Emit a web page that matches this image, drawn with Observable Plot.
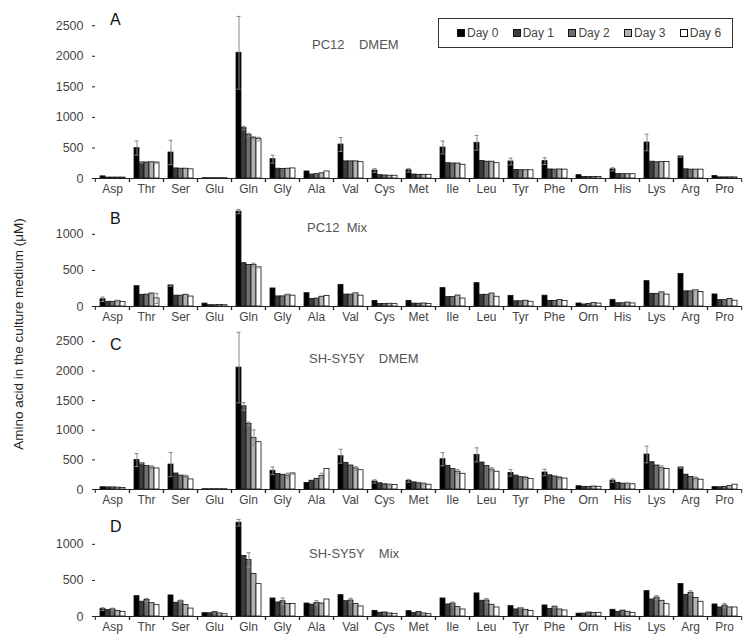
<!DOCTYPE html>
<html><head><meta charset="utf-8">
<script src="https://cdn.jsdelivr.net/npm/d3@7"></script>
<script src="https://cdn.jsdelivr.net/npm/@observablehq/plot@0.6"></script>
<style>
body{margin:0;background:#fff;font-family:"Liberation Sans",Arial,sans-serif;}
#wrap{position:relative;width:756px;height:642px;overflow:hidden;}
.panel{position:absolute;left:0;}
.tag{position:absolute;font-size:16px;line-height:16px;color:#111;}
.sub{position:absolute;font-size:13px;line-height:13px;color:#555;white-space:pre;}
#ylab{position:absolute;width:320px;left:-141px;top:326px;text-align:center;font-size:13.5px;line-height:16px;color:#222;transform:rotate(-90deg);transform-origin:50% 50%;}
#legend{position:absolute;left:438px;top:18px;width:295px;height:30px;border:1px solid #333;box-sizing:border-box;display:flex;align-items:center;padding-left:18px;background:#fff;}
#legend .item{width:55.7px;display:flex;align-items:center;font-size:12px;color:#444;flex:none;}
#legend .sw{width:6px;height:6px;border:1px solid #111;margin-right:2px;flex:none;}
</style>
</head><body>
<div id="wrap"></div>
<script>
const aminoAcids = ["Asp","Thr","Ser","Glu","Gln","Gly","Ala","Val","Cys","Met","Ile","Leu","Tyr","Phe","Orn","His","Lys","Arg","Pro"];
const days = ["Day 0","Day 1","Day 2","Day 3","Day 6"];
const dayFills = ["#000000","#3d3d3d","#6e6e6e","#b2b2b2","#ffffff"];

// Panel A: PC12 DMEM
const pc12Dmem = [
 [35,15,15,15,15],[497,265,262,265,260],[425,165,160,160,150],[5,5,5,5,5],[2057,824,715,665,645],
 [316,160,155,160,165],[115,65,70,85,115],[556,280,280,280,268],[130,55,50,45,45],[135,65,60,60,60],
 [507,250,245,245,225],[584,285,275,275,250],[278,140,135,135,135],[284,148,145,148,145],[55,25,25,25,25],
 [150,72,70,70,70],[589,275,265,270,270],[360,150,145,145,145],[40,18,18,18,18]];
const pc12DmemErr = [
 [0,0,0,0,0],[115,10,0,0,10],[200,0,0,0,0],[0,0,0,0,0],[595,30,25,20,30],
 [65,0,0,0,0],[0,0,0,0,0],[115,0,0,0,0],[30,0,0,0,0],[30,0,0,0,0],
 [105,0,0,0,0],[120,0,0,0,0],[55,0,0,0,0],[55,0,0,0,0],[0,0,0,0,0],
 [25,0,0,0,0],[135,0,0,0,0],[12,0,0,0,0],[0,0,0,0,0]];

// Panel B: PC12 Mix
const pc12Mix = [
 [100,65,65,78,62],[282,162,165,180,112],[292,150,150,162,138],[40,18,18,20,18],[1315,600,575,575,545],
 [250,140,140,162,150],[185,105,110,135,145],[300,165,165,185,150],[78,35,35,38,33],[78,40,38,42,35],
 [255,130,130,152,110],[324,162,162,180,135],[148,72,72,80,65],[150,78,78,90,75],[42,28,35,48,40],
 [92,45,45,55,42],[352,175,175,198,165],[450,210,210,228,200],[167,88,88,105,80]];
const pc12MixErr = [
 [30,0,0,8,0],[0,0,0,10,70],[12,0,0,0,0],[0,0,0,0,0],[30,0,0,25,10],
 [0,0,0,8,0],[0,0,0,0,0],[0,0,0,8,0],[0,0,0,0,0],[0,0,0,0,0],
 [0,0,0,0,0],[0,0,0,0,0],[0,0,0,0,0],[0,0,0,0,0],[0,0,0,0,0],
 [0,0,0,0,0],[0,0,0,8,0],[0,0,0,8,0],[0,0,0,0,0]];

// Panel C: SH-SY5Y DMEM
const shDmem = [
 [38,35,35,32,25],[497,445,395,370,355],[421,270,235,220,170],[5,5,5,5,5],[2057,1404,1107,871,798],
 [316,260,248,235,270],[110,148,180,228,345],[562,450,405,355,325],[135,105,88,80,75],[145,120,105,98,80],
 [511,400,345,300,265],[584,455,395,335,300],[280,235,208,195,180],[287,240,220,195,185],[55,45,42,50,45],
 [150,112,98,98,88],[590,460,405,360,345],[370,250,210,185,165],[40,38,42,60,82]];
const shDmemErr = [
 [0,0,0,0,0],[110,10,0,30,0],[205,0,0,20,0],[0,0,0,0,0],[595,65,30,135,0],
 [65,0,0,40,10],[0,0,0,45,0],[118,0,0,30,0],[28,0,0,10,0],[25,0,0,10,0],
 [112,0,0,35,0],[118,0,0,35,0],[55,0,0,25,0],[55,0,0,25,0],[0,0,0,0,0],
 [28,0,0,10,0],[140,0,0,40,0],[12,0,0,25,0],[0,0,0,0,0]];

// Panel D: SH-SY5Y Mix
const shMix = [
 [102,88,100,78,65],[282,205,230,185,157],[292,190,212,158,110],[46,45,60,42,32],[1300,838,782,590,449],
 [250,195,212,175,172],[180,165,190,180,236],[296,212,222,175,139],[78,52,56,42,37],[74,50,64,42,32],
 [250,167,180,130,97],[320,218,222,162,125],[144,98,115,92,78],[153,106,134,97,83],[40,40,55,50,50],
 [93,65,82,65,50],[352,236,262,218,171],[450,300,328,258,204],[167,125,152,125,125]];
const shMixErr = [
 [20,0,15,0,0],[0,0,20,0,0],[0,0,15,0,0],[0,0,0,0,0],[46,0,102,0,0],
 [0,0,45,0,0],[0,0,30,0,0],[0,0,30,0,0],[0,0,0,0,0],[0,0,0,0,0],
 [0,0,20,0,0],[0,0,28,0,0],[0,0,10,0,0],[0,0,12,0,0],[0,0,0,0,0],
 [0,0,0,0,0],[0,0,28,0,0],[0,0,28,0,0],[0,0,30,0,0]];

const panelLetters = ["A","B","C","D"];
const panelTitles = ["PC12    DMEM","PC12  Mix","SH-SY5Y    DMEM","SH-SY5Y    Mix"];
const yLabel = "Amino acid in the culture medium (\u03bcM)";
const ticksBig = [0,500,1000,1500,2000,2500];
const ticksSmall = [0,500,1000];

const W = 756, ML = 92, MR = 12;
const step = (W - ML - MR) / aminoAcids.length;

function rowsOf(values, errors) {
  const out = [];
  aminoAcids.forEach((aa, i) => days.forEach((day, j) => out.push({aa, day, v: values[i][j], e: errors[i][j]})));
  return out;
}

function makePanel(values, errors, yMax, yTicks, height, marginTop, marginBottom) {
  const rows = rowsOf(values, errors);
  const err = rows.filter(d => d.e > 0);
  return Plot.plot({
    width: W, height, marginLeft: ML, marginRight: MR, marginTop, marginBottom,
    style: {fontFamily: "Liberation Sans, Arial, sans-serif", fontSize: "12px", background: "transparent", overflow: "visible"},
    fx: {domain: aminoAcids, padding: 0, label: null},
    x: {domain: days, paddingInner: 0, paddingOuter: 0.72, axis: null},
    y: {domain: [0, yMax], label: null},
    color: {domain: days, range: dayFills},
    marks: [
      Plot.barY(rows, {fx: "aa", x: "day", y: "v", fill: "day", stroke: "#111", strokeWidth: 0.8}),
      Plot.ruleX(err, {fx: "aa", x: "day", y1: d => Math.max(0, d.v - d.e), y2: d => d.v + d.e, stroke: "#8a8a8a", strokeWidth: 1}),
      Plot.tickY(err, {fx: "aa", x: "day", y: d => d.v + d.e, stroke: "#8a8a8a", strokeWidth: 1, inset: 0.5}),
      Plot.tickY(err, {fx: "aa", x: "day", y: d => Math.max(0, d.v - d.e), stroke: "#8a8a8a", strokeWidth: 1, inset: 0.5}),
      Plot.ruleY([0], {stroke: "#222", strokeWidth: 1}),
      Plot.axisY({ticks: yTicks, tickFormat: d => String(d), tickSize: 3, tickPadding: 9, line: true, label: null, fill: "#444", stroke: "#222", fontSize: 12.5}),
      Plot.axisFx({anchor: "bottom", tickSize: 4, tickFormat: () => "", dx: -step / 2, label: null, stroke: "#222"}),
      Plot.axisFx({anchor: "bottom", tickSize: 4, tickFormat: () => "", dx: step / 2, label: null, stroke: "#222"}),
      Plot.axisFx({anchor: "bottom", tickSize: 0, tickPadding: 6, label: null, fill: "#444", fontSize: 12})
    ]
  });
}

const wrap = document.getElementById("wrap");
const panels = [
  {vals: pc12Dmem, errs: pc12DmemErr, yMax: 2700, ticks: ticksBig, top: 0, h: 198, mt: 13, mb: 20, tagY: 20, subY: 44, subX: 312},
  {vals: pc12Mix, errs: pc12MixErr, yMax: 1400, ticks: ticksSmall, top: 198, h: 128, mt: 7, mb: 20, tagY: 219, subY: 227, subX: 307},
  {vals: shDmem, errs: shDmemErr, yMax: 2700, ticks: ticksBig, top: 326, h: 182, mt: 3, mb: 19, tagY: 345, subY: 358, subX: 309},
  {vals: shMix, errs: shMixErr, yMax: 1400, ticks: ticksSmall, top: 508, h: 130, mt: 7, mb: 22, tagY: 527, subY: 553, subX: 309}
];
panels.forEach((p, k) => {
  const svg = makePanel(p.vals, p.errs, p.yMax, p.ticks, p.h, p.mt, p.mb);
  svg.classList.add("panel");
  svg.style.top = p.top + "px";
  wrap.appendChild(svg);
  const tag = document.createElement("div");
  tag.className = "tag"; tag.textContent = panelLetters[k];
  tag.style.left = "110px"; tag.style.top = (p.tagY - 8) + "px";
  wrap.appendChild(tag);
  const sub = document.createElement("div");
  sub.className = "sub"; sub.textContent = panelTitles[k];
  sub.style.left = p.subX + "px"; sub.style.top = (p.subY - 6.5) + "px";
  wrap.appendChild(sub);
});

const yl = document.createElement("div");
yl.id = "ylab"; yl.textContent = yLabel;
wrap.appendChild(yl);

const lg = document.createElement("div");
lg.id = "legend";
days.forEach((d, j) => {
  const it = document.createElement("div"); it.className = "item";
  const sw = document.createElement("span"); sw.className = "sw"; sw.style.background = dayFills[j];
  const tx = document.createElement("span"); tx.textContent = d;
  it.appendChild(sw); it.appendChild(tx); lg.appendChild(it);
});
wrap.appendChild(lg);
</script>
</body></html>
